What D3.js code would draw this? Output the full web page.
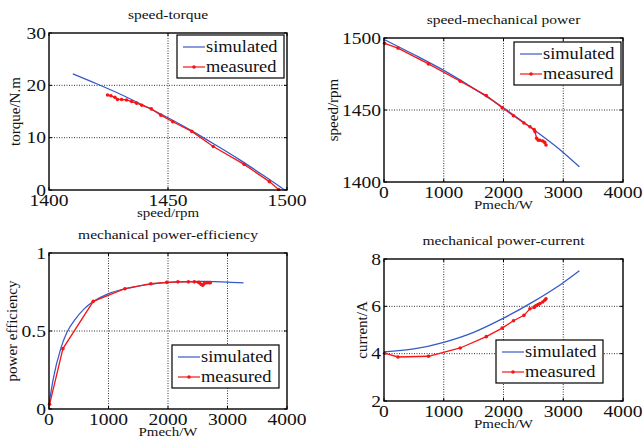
<!DOCTYPE html>
<html>
<head>
<meta charset="utf-8">
<script src="https://cdn.jsdelivr.net/npm/d3@7"></script>
<style>
  body { margin: 0; background: #fff; }
  svg { display: block; font-family: "Liberation Serif", "Times New Roman", serif; }
</style>
</head>
<body>
<div id="chart"></div>
<script>
// ---- data ----
// speed-torque
const tqSimSpeed = [1410, 1420, 1430, 1440, 1450, 1460, 1470, 1480, 1490, 1499];
const tqSimTorque = [22.2, 20.3, 18.3, 16.1, 13.8, 11.3, 8.6, 5.8, 2.8, 0];
const tqMeasSpeed = [1424.6, 1426, 1427.7, 1428.8, 1430.5, 1432.6, 1434.7, 1436.8, 1439, 1443, 1447, 1452, 1460, 1469, 1482, 1492.6, 1496.5];
const tqMeasTorque = [18.15, 18.0, 17.7, 17.3, 17.3, 17.2, 16.9, 16.6, 16.2, 15.5, 14.3, 13.05, 11.2, 8.3, 4.9, 1.6, 0.1];

// speed-mechanical power
const spSimPower = [0, 500, 1000, 1500, 2000, 2500, 3000, 3270];
const spSimSpeed = [1499, 1488.5, 1477.5, 1465, 1451.5, 1436.5, 1420.5, 1410.5];
const measPower = [10, 234, 744, 1276, 1712, 1978, 2167, 2342, 2443, 2513, 2527, 2555, 2583, 2610, 2656, 2690, 2711];
const spMeasSpeed = [1496.3, 1493, 1482, 1470, 1460, 1451.5, 1446, 1441, 1438.4, 1436.5, 1435, 1430.3, 1429, 1429, 1428.5, 1427.5, 1425.7];

// mechanical power-efficiency
const efSimPower = [0, 70, 200, 300, 450, 600, 750, 1000, 1400, 2000, 2600, 3000, 3270];
const efSimEff = [0.03, 0.19, 0.39, 0.49, 0.58, 0.645, 0.69, 0.74, 0.78, 0.812, 0.818, 0.814, 0.808];
const efMeasEff = [0.03, 0.387, 0.69, 0.771, 0.803, 0.812, 0.815, 0.815, 0.815, 0.812, 0.81, 0.8, 0.793, 0.805, 0.81, 0.81, 0.81];

// mechanical power-current
const crSimPower = [0, 500, 1000, 1500, 2000, 2500, 3000, 3270];
const crSimCurrent = [4.08, 4.2, 4.48, 4.9, 5.5, 6.2, 7.0, 7.5];
const crMeasCurrent = [4.02, 3.86, 3.89, 4.24, 4.72, 5.08, 5.39, 5.62, 5.9, 5.95, 6.0, 6.04, 6.08, 6.12, 6.18, 6.26, 6.32];

const seriesNames = ["simulated", "measured"];

// ---- layout ----
const width = 643, height = 444;
const blue = "#3459c8", red = "#f41515";
const sx = 1.15; // glyphs in the reference are a bit wide

const svg = d3.select("#chart").append("svg")
  .attr("width", width)
  .attr("height", height);

svg.append("rect").attr("width", width).attr("height", height).attr("fill", "#fff");

const zip = (a, b) => a.map((v, i) => [v, b[i]]);

const panels = [
  {
    title: "speed-torque", xLabel: "speed/rpm", yLabel: "torque/N.m",
    box: [49, 287, 33, 190], xDomain: [1400, 1500], yDomain: [0, 30],
    xTicks: [1400, 1450, 1500], yTicks: [0, 10, 20, 30],
    sim: zip(tqSimSpeed, tqSimTorque), meas: zip(tqMeasSpeed, tqMeasTorque),
    legend: [177, 35], yLabelX: 15
  },
  {
    title: "speed-mechanical power", xLabel: "Pmech/W", yLabel: "speed/rpm",
    box: [384, 623, 38, 182], xDomain: [0, 4000], yDomain: [1400, 1500],
    xTicks: [0, 1000, 2000, 3000, 4000], yTicks: [1400, 1450, 1500],
    sim: zip(spSimPower, spSimSpeed), meas: zip(measPower, spMeasSpeed),
    legend: [514, 42], yLabelX: 333
  },
  {
    title: "mechanical power-efficiency", xLabel: "Pmech/W", yLabel: "power efficiency",
    box: [49, 287, 253, 409], xDomain: [0, 4000], yDomain: [0, 1],
    xTicks: [0, 1000, 2000, 3000, 4000], yTicks: [0, 0.5, 1],
    sim: zip(efSimPower, efSimEff), meas: zip(measPower, efMeasEff),
    legend: [172, 345], yLabelX: 12
  },
  {
    title: "mechanical power-current", xLabel: "Pmech/W", yLabel: "current/A",
    box: [384, 623, 259, 401], xDomain: [0, 4000], yDomain: [2, 8],
    xTicks: [0, 1000, 2000, 3000, 4000], yTicks: [2, 4, 6, 8],
    sim: zip(crSimPower, crSimCurrent), meas: zip(measPower, crMeasCurrent),
    legend: [496, 340], yLabelX: 362
  }
];

function stretchedText(g, x, y, str, size, anchor) {
  return g.append("text")
    .attr("transform", `translate(${x},${y}) scale(${sx},1)`)
    .attr("text-anchor", anchor || "middle")
    .attr("font-size", size)
    .attr("fill", "#111")
    .text(str);
}

panels.forEach(p => {
  const [x0, x1, y0, y1] = p.box;
  const x = d3.scaleLinear().domain(p.xDomain).range([x0, x1]);
  const y = d3.scaleLinear().domain(p.yDomain).range([y1, y0]);
  const g = svg.append("g");

  // grid (dotted)
  const grid = g.append("g")
    .attr("stroke", "#333")
    .attr("stroke-width", 1)
    .attr("stroke-dasharray", "1,1.5");
  grid.selectAll(".gx").data(p.xTicks.slice(1, -1)).join("line")
    .attr("x1", d => x(d)).attr("x2", d => x(d))
    .attr("y1", y0).attr("y2", y1);
  grid.selectAll(".gy").data(p.yTicks.slice(1, -1)).join("line")
    .attr("y1", d => y(d)).attr("y2", d => y(d))
    .attr("x1", x0).attr("x2", x1);

  // inward tick marks on all four sides
  const ticks = g.append("g").attr("stroke", "#000").attr("stroke-width", 1);
  p.xTicks.forEach(t => {
    ticks.append("line").attr("x1", x(t)).attr("x2", x(t)).attr("y1", y1).attr("y2", y1 - 3);
    ticks.append("line").attr("x1", x(t)).attr("x2", x(t)).attr("y1", y0).attr("y2", y0 + 3);
  });
  p.yTicks.forEach(t => {
    ticks.append("line").attr("y1", y(t)).attr("y2", y(t)).attr("x1", x0).attr("x2", x0 + 3);
    ticks.append("line").attr("y1", y(t)).attr("y2", y(t)).attr("x1", x1).attr("x2", x1 - 3);
  });

  // lines
  const simLine = d3.line().x(d => x(d[0])).y(d => y(d[1])).curve(d3.curveMonotoneX);
  const measLine = d3.line().x(d => x(d[0])).y(d => y(d[1]));

  g.append("path").datum(p.sim)
    .attr("d", simLine)
    .attr("fill", "none").attr("stroke", blue).attr("stroke-width", 1.25);

  g.append("path").datum(p.meas)
    .attr("d", measLine)
    .attr("fill", "none").attr("stroke", red).attr("stroke-width", 1.3);

  g.selectAll(".dot").data(p.meas).join("circle")
    .attr("cx", d => x(d[0])).attr("cy", d => y(d[1]))
    .attr("r", 1.8).attr("fill", red);

  // axes box
  g.append("rect")
    .attr("x", x0).attr("y", y0)
    .attr("width", x1 - x0).attr("height", y1 - y0)
    .attr("fill", "none").attr("stroke", "#000").attr("stroke-width", 1.4);

  // tick labels
  p.xTicks.forEach(t => stretchedText(g, x(t), y1 + 16, d3.format("")(t), 17));
  p.yTicks.forEach(t => stretchedText(g, x0 - 3, y(t) + 5.5, d3.format("")(t), 17, "end"));

  // title and axis labels
  stretchedText(g, (x0 + x1) / 2, y0 - 14, p.title, 13.5);
  stretchedText(g, (x0 + x1) / 2, y1 + 27, p.xLabel, 13);
  g.append("text")
    .attr("transform", `translate(${p.yLabelX + 5},${(y0 + y1) / 2}) rotate(-90)`)
    .attr("text-anchor", "middle")
    .attr("font-size", 15)
    .attr("fill", "#111")
    .text(p.yLabel);

  // legend
  const [lx, ly] = p.legend;
  const lg = g.append("g").attr("transform", `translate(${lx},${ly})`);
  lg.append("rect")
    .attr("width", 107).attr("height", 43)
    .attr("fill", "#fff").attr("stroke", "#000").attr("stroke-width", 1.2);
  seriesNames.forEach((name, i) => {
    const cy = 12 + i * 20;
    const col = i === 0 ? blue : red;
    lg.append("line")
      .attr("x1", 6).attr("x2", 28).attr("y1", cy).attr("y2", cy)
      .attr("stroke", col).attr("stroke-width", 1.2);
    if (i === 1) lg.append("circle").attr("cx", 17).attr("cy", cy).attr("r", 1.8).attr("fill", red);
    stretchedText(lg, 29, cy + 5, name, 16, "start");
  });
});
</script>
</body>
</html>
